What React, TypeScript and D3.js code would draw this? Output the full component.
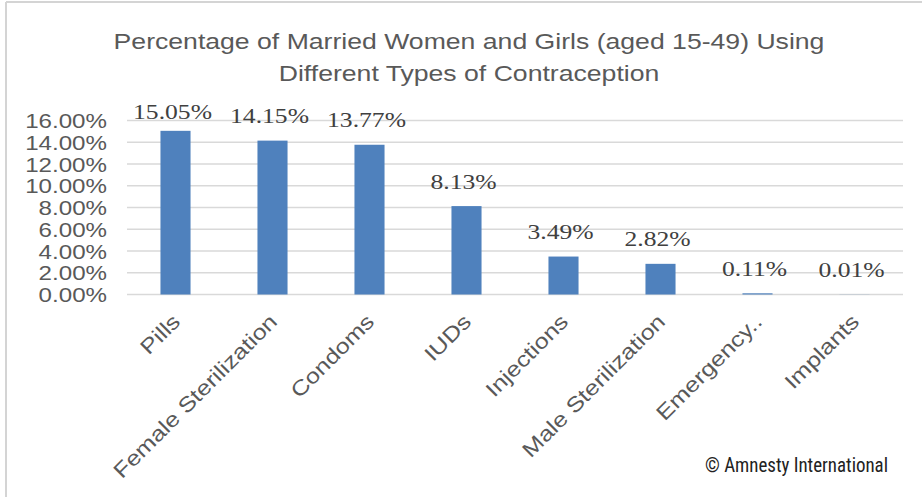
import React from "react";
import * as d3 from "d3";

const categories = ["Pills", "Female Sterilization", "Condoms", "IUDs", "Injections", "Male Sterilization", "Emergency..", "Implants"];
const values = [15.05, 14.15, 13.77, 8.13, 3.49, 2.82, 0.11, 0.01];
const yTicks = [0, 2, 4, 6, 8, 10, 12, 14, 16];
const titleLines = ["Percentage of Married Women and Girls (aged 15-49) Using", "Different Types of Contraception"];
const credit = "© Amnesty International";

const W = 922;
const H = 497;
const M = { left: 127, right: 19, top: 120.5, bottom: 202.5 };

export default function App() {
  const x = d3
    .scaleBand<string>()
    .domain(categories)
    .range([M.left, W - M.right])
    .paddingInner(0.69)
    .paddingOuter(0.345);
  const y = d3.scaleLinear().domain([0, 16]).range([H - M.bottom, M.top]);
  const fmt = (v: number) => v.toFixed(2) + "%";
  const sans = "'Liberation Sans', Arial, sans-serif";
  const serif = "'Liberation Serif', 'Times New Roman', serif";

  return (
    <svg width={W} height={H} style={{ position: "absolute", left: 0, top: 0, background: "#fff" }}>
      <rect x={0} y={0} width={W} height={H} fill="#fff" />
      <line x1={6} x2={6} y1={2} y2={H} stroke="#d4d4d4" strokeWidth={2} />
      <line x1={6} x2={W} y1={2} y2={2} stroke="#d4d4d4" strokeWidth={2} />

      {titleLines.map((t, i) => (
        <text
          key={t}
          transform={`translate(${469},${49 + i * 32}) scale(1.21,1)`}
          textAnchor="middle"
          fontFamily={sans}
          fontSize={22}
          fill="#595959"
        >
          {t}
        </text>
      ))}

      {yTicks.map((t) => (
        <g key={t}>
          <line x1={M.left} x2={W - M.right} y1={y(t)} y2={y(t)} stroke="#d9d9d9" strokeWidth={1.5} />
          <text
            transform={`translate(${107},${y(t) + 7.5}) scale(1.15,1)`}
            textAnchor="end"
            fontFamily={sans}
            fontSize={21}
            fill="#595959"
          >
            {fmt(t)}
          </text>
        </g>
      ))}

      {categories.map((c, i) => {
        const bx = x(c)!;
        const cx = bx + x.bandwidth() / 2;
        const top = y(values[i]);
        const ly = Math.max(top - 17.5, 119);
        return (
          <g key={c}>
            <rect x={bx} y={top} width={x.bandwidth()} height={y(0) - top} fill="#4f81bd" />
            <text
              transform={`translate(${cx - 3},${ly}) scale(1.22,1)`}
              textAnchor="middle"
              fontFamily={serif}
              fontSize={21}
              fill="#404040"
            >
              {fmt(values[i])}
            </text>
            <text
              transform={`translate(${cx + 6},${323}) rotate(-45) scale(1.2,1)`}
              textAnchor="end"
              fontFamily={sans}
              fontSize={21}
              fill="#595959"
            >
              {c}
            </text>
          </g>
        );
      })}

      <text
        x={705}
        y={472}
        fontFamily="'Liberation Sans Narrow', 'Arial Narrow', 'Roboto Condensed', sans-serif"
        fontSize={20}
        fill="#222"
        textLength={183}
        lengthAdjust="spacingAndGlyphs"
      >
        {credit}
      </text>
    </svg>
  );
}
